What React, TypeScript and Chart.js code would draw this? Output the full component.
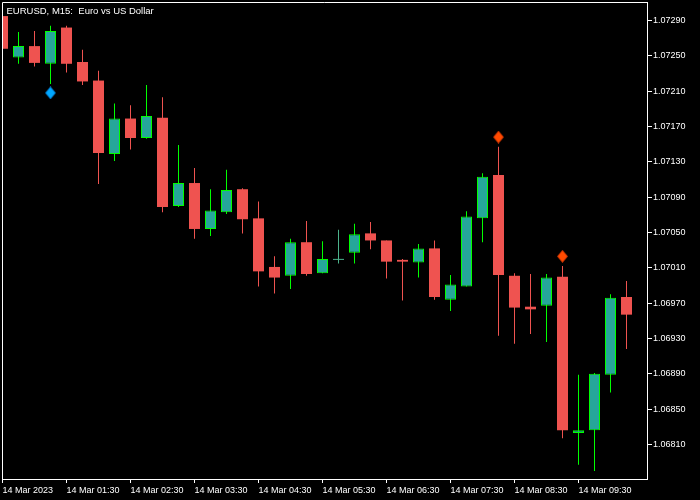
import React, { useEffect, useRef } from 'react';
import { Chart, registerables } from 'chart.js';

Chart.register(...registerables);

const chartTitle = 'EURUSD, M15:  Euro vs US Dollar';

// M15 bars, 14 Mar 2023 00:30 .. 10:15
const openPrices = [1.07295, 1.07248, 1.07261, 1.07241, 1.07282, 1.07243, 1.07222, 1.07139, 1.07179, 1.07157, 1.07180, 1.07080, 1.07106, 1.07054, 1.07073, 1.07099, 1.07066, 1.07011, 1.07001, 1.07039, 1.07004, 1.07019, 1.07027, 1.07049, 1.07041, 1.07019, 1.07016, 1.07032, 1.06974, 1.06989, 1.07066, 1.07115, 1.07001, 1.06966, 1.06967, 1.07000, 1.06823, 1.06826, 1.06889, 1.06977];
const highPrices = [1.07297, 1.07277, 1.07278, 1.07284, 1.07284, 1.07257, 1.07233, 1.07196, 1.07194, 1.07217, 1.07203, 1.07149, 1.07123, 1.07099, 1.07121, 1.07100, 1.07085, 1.07023, 1.07043, 1.07063, 1.07040, 1.07053, 1.07060, 1.07062, 1.07041, 1.07020, 1.07037, 1.07041, 1.07002, 1.07074, 1.07117, 1.07147, 1.07004, 1.07003, 1.07003, 1.07012, 1.06889, 1.06891, 1.06980, 1.06995];
const lowPrices = [1.07258, 1.07241, 1.07238, 1.07218, 1.07231, 1.07217, 1.07105, 1.07131, 1.07144, 1.07156, 1.07073, 1.07079, 1.07043, 1.07046, 1.07071, 1.07049, 1.06989, 1.06981, 1.06986, 1.07001, 1.07004, 1.07015, 1.07015, 1.07031, 1.06998, 1.06973, 1.06999, 1.06974, 1.06961, 1.06989, 1.07039, 1.06933, 1.06924, 1.06935, 1.06926, 1.06817, 1.06787, 1.06780, 1.06869, 1.06918];
const closePrices = [1.07258, 1.07261, 1.07242, 1.07278, 1.07241, 1.07221, 1.07140, 1.07179, 1.07157, 1.07182, 1.07079, 1.07106, 1.07054, 1.07075, 1.07098, 1.07065, 1.07006, 1.06999, 1.07039, 1.07003, 1.07020, 1.07019, 1.07048, 1.07041, 1.07017, 1.07017, 1.07032, 1.06977, 1.06991, 1.07068, 1.07113, 1.07002, 1.06965, 1.06963, 1.06999, 1.06826, 1.06826, 1.06890, 1.06976, 1.06957];

const buySignalBar = [3];
const buySignalPrice = [1.07208];
const sellSignalBar = [31, 35];
const sellSignalPrice = [1.07158, 1.07023];

const timeLabelBar = [0, 4, 8, 12, 16, 20, 24, 28, 32, 36];
const timeLabels = ['14 Mar 2023', '14 Mar 01:30', '14 Mar 02:30', '14 Mar 03:30', '14 Mar 04:30', '14 Mar 05:30', '14 Mar 06:30', '14 Mar 07:30', '14 Mar 08:30', '14 Mar 09:30'];
const priceTickLabels = ['1.06810', '1.06850', '1.06890', '1.06930', '1.06970', '1.07010', '1.07050', '1.07090', '1.07130', '1.07170', '1.07210', '1.07250', '1.07290'];

const priceMin = 1.0677094;
const priceMax = 1.0731094;
const barMin = -0.03125;
const barMax = 40.28125;

const RED = '#EF5350';
const TEAL = '#26A69A';
const GREEN = '#00FF00';
const DOJI = '#4CB38C';
const FONT = '"Liberation Sans", Arial, sans-serif';

function makeDiamond(fill: string, edge: string) {
  const c = document.createElement('canvas');
  c.width = 11;
  c.height = 13;
  const g = c.getContext('2d')!;
  g.beginPath();
  g.moveTo(5.5, 0); g.lineTo(11, 6.5); g.lineTo(5.5, 13); g.lineTo(0, 6.5);
  g.closePath();
  g.fillStyle = edge;
  g.fill();
  g.beginPath();
  g.moveTo(5.5, 1.3); g.lineTo(9.8, 6.5); g.lineTo(5.5, 11.7); g.lineTo(1.2, 6.5);
  g.closePath();
  g.fillStyle = fill;
  g.fill();
  return c;
}

function zeroPadding(s: any) {
  s.paddingTop = 0;
  s.paddingBottom = 0;
  s.paddingLeft = 0;
  s.paddingRight = 0;
}

export default function App() {
  const ref = useRef<HTMLCanvasElement>(null);

  useEffect(() => {
    const canvas = ref.current!;
    const idx = closePrices.map((_, i) => i);
    const isDoji = (i: number) => closePrices[i] === openPrices[i];
    const isBull = (i: number) => closePrices[i] > openPrices[i];

    const bgPlugin = {
      id: 'bg',
      beforeDraw(chart: any) {
        const ctx = chart.ctx;
        ctx.save();
        ctx.fillStyle = '#000';
        ctx.fillRect(0, 0, chart.width, chart.height);
        ctx.restore();
      },
    };
    const framePlugin = {
      id: 'frame',
      afterDatasetsDraw(chart: any) {
        const { ctx, chartArea } = chart;
        ctx.save();
        ctx.strokeStyle = '#fff';
        ctx.lineWidth = 1;
        ctx.beginPath();
        ctx.moveTo(chartArea.left + 0.5, chartArea.bottom);
        ctx.lineTo(chartArea.left + 0.5, chartArea.top + 0.5);
        ctx.lineTo(chartArea.right, chartArea.top + 0.5);
        ctx.stroke();
        ctx.fillStyle = '#fff';
        ctx.font = '9.5px ' + FONT;
        ctx.textAlign = 'left';
        ctx.textBaseline = 'alphabetic';
        ctx.fillText(chartTitle, 6.5, 13.5);
        ctx.restore();
      },
    };

    const chart = new Chart(canvas, {
      type: 'bar',
      data: {
        datasets: [
          {
            type: 'bar',
            label: 'wick',
            data: idx.map((i) => ({ x: i, y: [lowPrices[i], highPrices[i]] })) as any,
            backgroundColor: idx.map((i) => (isDoji(i) ? DOJI : isBull(i) ? GREEN : RED)),
            borderWidth: 0,
            barThickness: 1,
            inflateAmount: 0,
            grouped: false,
            clip: 0,
            order: 3,
          } as any,
          {
            type: 'bar',
            label: 'body',
            data: idx.map((i) => ({ x: i, y: [openPrices[i], closePrices[i]] })) as any,
            backgroundColor: idx.map((i) => (isDoji(i) ? DOJI : isBull(i) ? TEAL : RED)),
            borderColor: idx.map((i) => (isDoji(i) ? DOJI : isBull(i) ? GREEN : RED)),
            borderWidth: idx.map((i) => (isBull(i) ? 1 : 0)),
            borderSkipped: false,
            barThickness: 11,
            minBarLength: 1,
            inflateAmount: 0,
            grouped: false,
            clip: 0,
            order: 2,
          } as any,
          {
            type: 'scatter',
            label: 'buy',
            data: buySignalBar.map((b, k) => ({ x: b, y: buySignalPrice[k] })),
            pointStyle: makeDiamond('#00A8FF', '#0078C8'),
            pointRadius: 6,
            order: 1,
          } as any,
          {
            type: 'scatter',
            label: 'sell',
            data: sellSignalBar.map((b, k) => ({ x: b, y: sellSignalPrice[k] })),
            pointStyle: makeDiamond('#FF4A00', '#C83400'),
            pointRadius: 6,
            order: 1,
          } as any,
        ],
      },
      options: {
        responsive: false,
        maintainAspectRatio: false,
        animation: false,
        devicePixelRatio: 1,
        layout: { autoPadding: false, padding: { left: 2, top: 2, right: 0, bottom: 0 } },
        plugins: {
          legend: { display: false },
          tooltip: { enabled: false },
          title: { display: false },
        },
        scales: {
          x: {
            type: 'linear',
            min: barMin,
            max: barMax,
            bounds: 'data',
            offset: false,
            grid: {
              display: true,
              drawOnChartArea: false,
              drawTicks: true,
              tickLength: 4,
              color: '#fff',
              lineWidth: 1,
              offset: false,
            },
            border: { display: true, color: '#fff', width: 1 },
            ticks: {
              autoSkip: false,
              maxRotation: 0,
              minRotation: 0,
              align: 'start',
              padding: 2,
              color: '#fff',
              font: { family: FONT, size: 9 },
              callback: (_v: any, i: number) => timeLabels[i],
            },
            afterBuildTicks: (s: any) => {
              s.ticks = timeLabelBar.map((v) => ({ value: v }));
            },
            afterFit: (s: any) => {
              s.height = 21;
              zeroPadding(s);
            },
          } as any,
          y: {
            type: 'linear',
            position: 'right',
            min: priceMin,
            max: priceMax,
            bounds: 'data',
            beginAtZero: false,
            grid: {
              display: true,
              drawOnChartArea: false,
              drawTicks: true,
              tickLength: 5,
              color: '#fff',
              lineWidth: 1,
            },
            border: { display: true, color: '#fff', width: 1 },
            ticks: {
              padding: 1,
              color: '#fff',
              font: { family: FONT, size: 9 },
              callback: (_v: any, i: number) => priceTickLabels[i],
            },
            afterBuildTicks: (s: any) => {
              s.ticks = priceTickLabels.map((t) => ({ value: parseFloat(t) }));
            },
            afterFit: (s: any) => {
              s.width = 53;
              zeroPadding(s);
            },
          } as any,
        },
      },
      plugins: [bgPlugin, framePlugin],
    });

    return () => chart.destroy();
  }, []);

  return (
    <div style={{ position: 'fixed', left: 0, top: 0, width: 700, height: 500, background: '#000' }}>
      <canvas ref={ref} width={700} height={500} style={{ display: 'block', width: 700, height: 500 }} />
    </div>
  );
}
